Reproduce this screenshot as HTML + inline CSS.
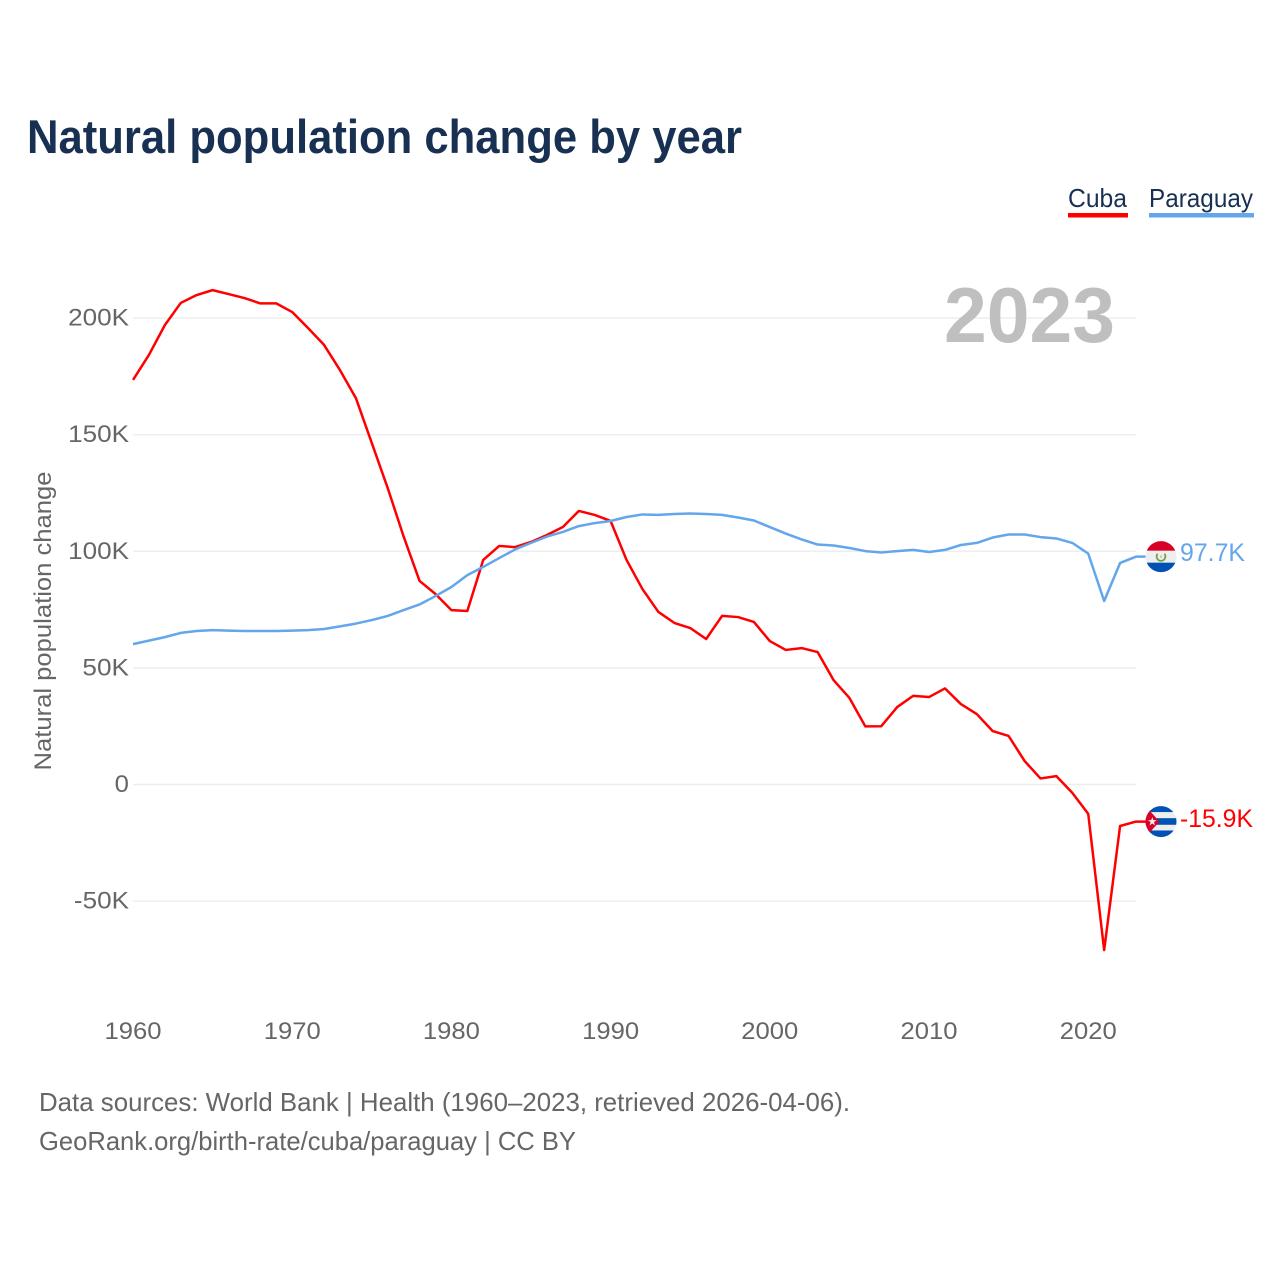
<!DOCTYPE html>
<html lang="en">
<head>
<meta charset="utf-8">
<title>Natural population change by year</title>
<style>
html,body{margin:0;padding:0;background:#fff;}
#chart{display:block;width:1280px;height:1280px;font-family:"Liberation Sans",sans-serif;}
</style>
</head>
<body>
<svg id="chart" xmlns="http://www.w3.org/2000/svg" width="1280" height="1280" viewBox="0 0 1280 1280">
  <defs>
    <clipPath id="clip-py"><circle cx="0" cy="0" r="15.5"></circle></clipPath>
    <clipPath id="clip-cu"><circle cx="0" cy="0" r="15.5"></circle></clipPath>
  </defs>
  <rect x="0" y="0" width="1280" height="1280" fill="#ffffff"></rect>
  <text x="27" y="153" font-size="47" font-weight="700" fill="#183153" textLength="715" lengthAdjust="spacingAndGlyphs">Natural population change by year</text>

  <g>
    <text x="1068" y="207" font-size="26" fill="#183153" textLength="59" lengthAdjust="spacingAndGlyphs">Cuba</text>
    <rect x="1068" y="213" width="60" height="4.5" fill="#ff0000"></rect>
  </g>
  <g>
    <text x="1149" y="207" font-size="26" fill="#183153" textLength="104" lengthAdjust="spacingAndGlyphs">Paraguay</text>
    <rect x="1149" y="213" width="105" height="4.5" fill="#63a6ec"></rect>
  </g>

  <g id="grid"></g>
  <text x="944" y="342" font-size="78" font-weight="700" fill="#bfbfbf" textLength="171" lengthAdjust="spacingAndGlyphs">2023</text>
  <g id="yticks"></g>
  <g id="xticks"></g>
  <text transform="translate(51,621) rotate(-90)" text-anchor="middle" font-size="24.5" fill="#666666" textLength="299" lengthAdjust="spacingAndGlyphs">Natural population change</text>

  <g id="series"></g>

  <g id="flag-py">
    <g clip-path="url(#clip-py)">
      <rect x="-16" y="-16" width="32" height="32" fill="#eeeeee"></rect>
      <rect x="-16" y="-16" width="32" height="10" fill="#d80027"></rect>
      <rect x="-16" y="6" width="32" height="10" fill="#0052b4"></rect>
      <path d="M-3.4,-3 A4.4,4.4 0 1 0 3.4,-3" fill="none" stroke="#6da544" stroke-width="1.8"></path>
      <circle cx="0" cy="0" r="1.2" fill="#f5a9a9"></circle>
    </g>
  </g>
  <g id="flag-cu">
    <g clip-path="url(#clip-cu)">
      <rect x="-16" y="-16" width="32" height="32" fill="#eeeeee"></rect>
      <rect x="-16" y="-16" width="32" height="6.5" fill="#0052b4"></rect>
      <rect x="-16" y="-3.4" width="32" height="6.6" fill="#0052b4"></rect>
      <rect x="-16" y="8.9" width="32" height="7.1" fill="#0052b4"></rect>
      <polygon points="-16,-16 -1.5,0 -16,16" fill="#d80027"></polygon>
      <polygon points="-8.7,-4.6 -7.6,-1.5 -4.3,-1.5 -7,0.6 -6,3.8 -8.7,1.9 -11.4,3.8 -10.4,0.6 -13.1,-1.5 -9.8,-1.5" fill="#eeeeee"></polygon>
    </g>
  </g>
  <text id="label-py" font-size="25" fill="#63a6ec"></text>
  <text id="label-cu" font-size="25" fill="#ff0000"></text>

  <text x="39" y="1111" font-size="26" fill="#666666" textLength="811" lengthAdjust="spacingAndGlyphs">Data sources: World Bank | Health (1960–2023, retrieved 2026-04-06).</text>
  <text x="39" y="1150" font-size="26" fill="#666666" textLength="537" lengthAdjust="spacingAndGlyphs">GeoRank.org/birth-rate/cuba/paraguay | CC BY</text>
</svg>
<script>
const startYear = 1960;
const cubaValues = [173.5,184.2,197.0,206.5,209.9,212.0,210.3,208.6,206.3,206.3,202.6,195.7,188.5,177.7,165.7,146.4,127.1,106.3,87.3,81.7,74.8,74.4,96.3,102.3,101.8,104.0,107.0,110.4,117.3,115.6,113.0,96.3,83.8,74.0,69.3,67.1,62.4,72.3,71.8,69.7,61.5,57.7,58.5,56.8,44.8,37.1,24.9,25.0,33.2,38.0,37.5,41.2,34.5,30.2,22.9,20.8,10.1,2.6,3.6,-3.6,-12.6,-71.0,-17.8,-15.9];
const paraguayValues = [60.2,61.7,63.2,65.0,65.8,66.2,66.0,65.8,65.8,65.8,66.0,66.2,66.7,67.8,69.0,70.5,72.3,74.8,77.2,80.8,84.7,89.8,93.3,97.1,100.8,103.6,106.3,108.3,110.8,112.1,113.0,114.7,115.8,115.6,116.0,116.2,116.0,115.6,114.5,113.2,110.4,107.6,105.1,102.9,102.5,101.4,100.1,99.5,100.1,100.6,99.7,100.6,102.7,103.6,105.9,107.2,107.2,106.1,105.5,103.6,99.0,78.7,95.0,97.7];
const yTickValues = [-50,0,50,100,150,200];
const xTickYears = [1960,1970,1980,1990,2000,2010,2020];

const NS = 'http://www.w3.org/2000/svg';
function xScale(year){ return 133 + (year - 1960) * (1136 - 133) / 63; }
function yScale(v){ return 784.5 - v * 2.332; }
function fmt(v){
  if (v === 0) return '0';
  return v + 'K';
}
function fmtEnd(v){ return v.toFixed(1) + 'K'; }
function textWidth(s){
  let w = 0;
  for (const ch of s){
    if (ch === 'K') w += 18;
    else if (ch === '-') w += 8.5;
    else if (ch === '.') w += 6;
    else w += 14.3;
  }
  return w;
}
function mk(tag, parent){
  const el = document.createElementNS(NS, tag);
  parent.appendChild(el);
  return el;
}
const grid = document.getElementById('grid');
const yticks = document.getElementById('yticks');
const xticks = document.getElementById('xticks');
const series = document.getElementById('series');

yTickValues.forEach(function(v){
  const line = mk('line', grid);
  
  
  line.setAttribute('x1', 133);
  line.setAttribute('x2', 1136);
  line.setAttribute('y1', yScale(v));
  line.setAttribute('y2', yScale(v));
  line.setAttribute('stroke', '#eeeeee');
  line.setAttribute('stroke-width', 1.5);
  const t = mk('text', yticks);
  
  
  const s = fmt(v);
  t.textContent = s;
  t.setAttribute('x', 129);
  t.setAttribute('y', yScale(v) + 7.5);
  t.setAttribute('text-anchor', 'end');
  t.setAttribute('font-size', 24.5);
  t.setAttribute('fill', '#666666');
  t.setAttribute('textLength', textWidth(s));
  t.setAttribute('lengthAdjust', 'spacingAndGlyphs');
});

xTickYears.forEach(function(y){
  const t = mk('text', xticks);
  
  
  t.textContent = String(y);
  t.setAttribute('x', xScale(y));
  t.setAttribute('y', 1039);
  t.setAttribute('text-anchor', 'middle');
  t.setAttribute('font-size', 24.5);
  t.setAttribute('fill', '#666666');
  t.setAttribute('textLength', 57);
  t.setAttribute('lengthAdjust', 'spacingAndGlyphs');
});

function pathFor(values){
  const pts = values.map(function(v, i){
    return xScale(startYear + i).toFixed(2) + ',' + yScale(v).toFixed(2);
  });
  const last = values[values.length - 1];
  pts.push('1146,' + yScale(last).toFixed(2));
  return 'M' + pts.join('L');
}
const cubaLine = mk('path', series);


cubaLine.setAttribute('d', pathFor(cubaValues));
cubaLine.setAttribute('fill', 'none');
cubaLine.setAttribute('stroke', '#ff0000');
cubaLine.setAttribute('stroke-width', 2.5);
cubaLine.setAttribute('stroke-linejoin', 'round');

const paraguayLine = mk('path', series);


paraguayLine.setAttribute('d', pathFor(paraguayValues));
paraguayLine.setAttribute('fill', 'none');
paraguayLine.setAttribute('stroke', '#63a6ec');
paraguayLine.setAttribute('stroke-width', 2.5);
paraguayLine.setAttribute('stroke-linejoin', 'round');

const pyEnd = paraguayValues[paraguayValues.length - 1];
const cuEnd = cubaValues[cubaValues.length - 1];
document.getElementById('flag-py').setAttribute('transform', 'translate(1161,' + yScale(pyEnd) + ')');
document.getElementById('flag-cu').setAttribute('transform', 'translate(1161,' + yScale(cuEnd) + ')');
const lp = document.getElementById('label-py');
lp.textContent = fmtEnd(pyEnd);
lp.setAttribute('x', 1180);
lp.setAttribute('y', yScale(pyEnd) + 4.5);
lp.setAttribute('textLength', 65);
lp.setAttribute('lengthAdjust', 'spacingAndGlyphs');
const lc = document.getElementById('label-cu');
lc.textContent = fmtEnd(cuEnd);
lc.setAttribute('x', 1180);
lc.setAttribute('y', yScale(cuEnd) + 5.5);
lc.setAttribute('textLength', 73);
lc.setAttribute('lengthAdjust', 'spacingAndGlyphs');
</script>
</body>
</html>
